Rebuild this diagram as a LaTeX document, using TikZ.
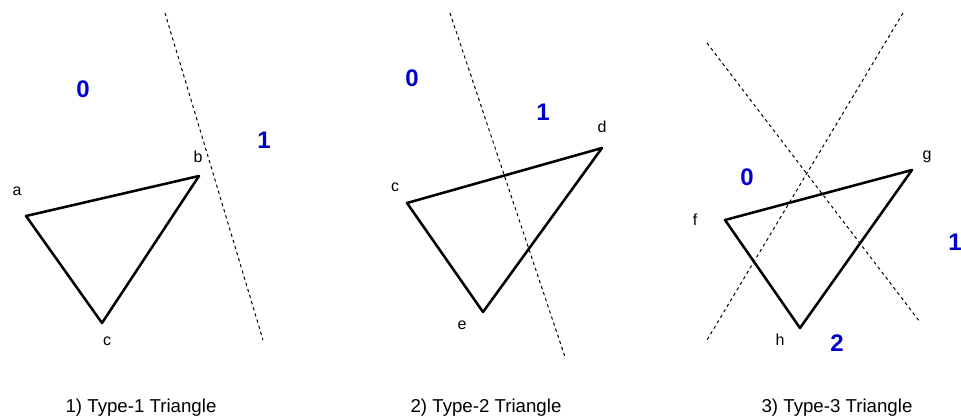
\documentclass[tikz,border=0pt]{standalone}
\usepackage{fontspec}
\setmainfont{Liberation Sans}
\definecolor{regionblue}{RGB}{0,0,204}

\begin{document}
\begin{tikzpicture}[x=0.75pt,y=-0.75pt,line join=round,
  tri/.style={line width=1.9pt},
  cut/.style={line width=0.75pt, dash pattern=on 2.4pt off 2.4pt},
  vlabel/.style={inner sep=0pt, font=\fontsize{12}{14}\selectfont},
  region/.style={inner sep=0pt, text=regionblue, font=\fontsize{18}{21}\selectfont\bfseries},
  caption/.style={inner sep=0pt, anchor=base, font=\fontsize{14}{17}\selectfont}]
\useasboundingbox (0,0) rectangle (961,417);
% 1) one cut line
\coordinate (t1a) at (26,216);
\coordinate (t1b) at (199,176);
\coordinate (t1c) at (102,323);
\coordinate (l1s) at (165,13);
\coordinate (l1e) at (263,340);
\draw[cut] (l1s) -- (l1e);
\draw[tri] (t1a) -- (t1b) -- (t1c) -- cycle;
\node[vlabel] (na) at (17,191) {a};
\node[vlabel] (nb) at (198,157) {b};
\node[vlabel] (nc) at (107,341) {c};
\node[region] (r10) at (83,89) {0};
\node[region] (r11) at (264,140) {1};
\node[caption] (cap1) at (141,412) {1) Type-1 Triangle};
% 2) cut line through the triangle
\coordinate (t2c) at (407,203);
\coordinate (t2d) at (602,148);
\coordinate (t2e) at (483,312);
\coordinate (l2s) at (450,13);
\coordinate (l2e) at (565,357);
\draw[cut] (l2s) -- (l2e);
\draw[tri] (t2c) -- (t2d) -- (t2e) -- cycle;
\node[vlabel] (nc2) at (395,187) {c};
\node[vlabel] (nd) at (602,127) {d};
\node[vlabel] (ne) at (462,325) {e};
\node[region] (r20) at (412,78) {0};
\node[region] (r21) at (543,112) {1};
\node[caption] (cap2) at (486,412) {2) Type-2 Triangle};
% 3) two crossing cut lines
\coordinate (t3f) at (725,220);
\coordinate (t3g) at (912,170);
\coordinate (t3h) at (800,328);
\coordinate (l3s) at (707,43);
\coordinate (l3e) at (920,322);
\coordinate (l4s) at (903,13);
\coordinate (l4e) at (707,340);
\draw[cut] (l3s) -- (l3e);
\draw[cut] (l4s) -- (l4e);
\draw[tri] (t3f) -- (t3g) -- (t3h) -- cycle;
\node[vlabel] (nf) at (695,220) {f};
\node[vlabel] (ng) at (927,157) {g};
\node[vlabel] (nh) at (780,340) {h};
\node[region] (r30) at (747,177) {0};
\node[region] (r31) at (955,242) {1};
\node[region] (r32) at (837,343) {2};
\node[caption] (cap3) at (837,412) {3) Type-3 Triangle};
\end{tikzpicture}
\end{document}
